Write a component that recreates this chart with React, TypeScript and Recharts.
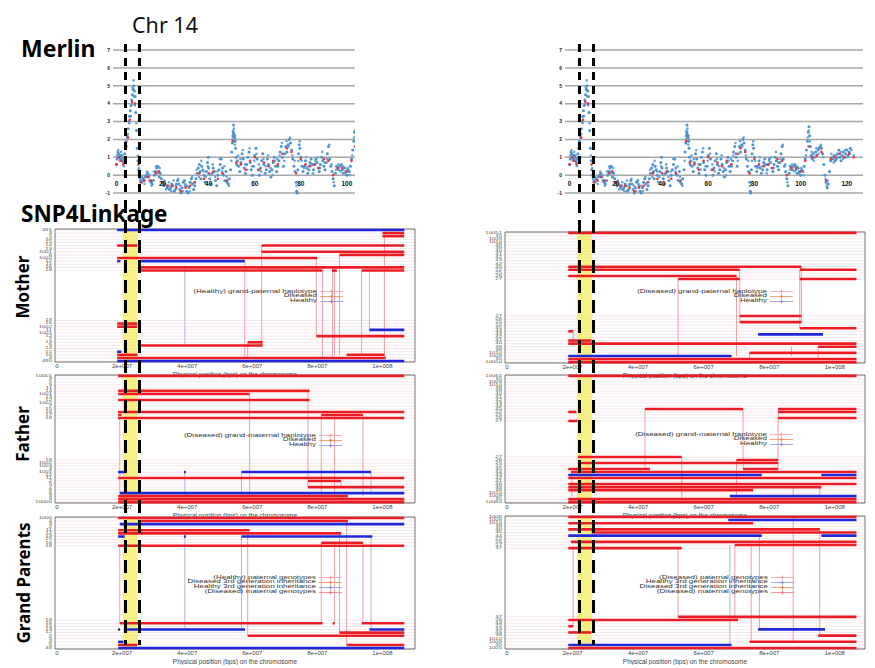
import React from "react";
import {
  ComposedChart,
  Scatter,
  XAxis,
  YAxis,
  CartesianGrid,
  ReferenceLine,
  ReferenceArea,
} from "recharts";

// ---- Merlin LOD profile (position index, LOD) ----
const merlinBlue: [number, number][] = [
  [0, 0.6], [0.3, 0.9], [0.6, 1.3], [0.9, 1.2], [1.2, 1.0], [1.5, 1.1], [1.8, 0.9], [2.1, 1.1], [2.4, 1.0], [2.7, 0.8],
  [3.0, 0.7], [3.3, 0.9], [3.6, 1.2], [3.9, 1.5], [4.2, 1.9], [4.5, 2.2], [4.8, 2.1], [5.1, 2.6], [5.4, 3.0], [5.7, 3.3],
  [6.0, 3.6], [6.3, 3.9], [6.6, 4.2], [6.9, 4.5], [7.2, 4.8], [7.5, 5.0], [7.8, 4.7], [8.1, 4.4], [8.4, 3.5], [8.7, 2.5],
  [9.0, 1.5], [9.3, 0.8], [9.6, 0.3], [9.9, 0.0], [10.5, -0.3], [11, -0.4], [11.5, -0.2], [12, -0.3], [12.5, -0.1], [13, 0.0],
  [13.5, 0.1], [14, -0.1], [14.5, -0.3], [15, -0.4], [15.5, -0.5], [16, -0.3], [16.5, 0.0], [17, 0.2], [17.5, 0.4], [18, 0.5],
  [18.3, 0.2], [18.6, -0.1], [19, 0.1], [19.5, -0.2], [20, -0.4], [20.5, -0.6], [21, -0.5], [22, -0.7], [22.5, -0.6], [23, -0.8],
  [23.5, -0.7], [24, -0.5], [24.5, -0.6], [25, -0.9], [25.5, -0.8], [26, -0.5], [26.5, -0.3], [27, -0.5], [27.5, -0.8], [28, -1.0],
  [28.5, -0.7], [29, -0.4], [29.5, -0.3], [30, -0.6], [30.5, -0.9], [31, -1.0], [31.5, -0.7], [32, -0.4], [32.5, -0.2], [33, -0.5],
  [33.5, -0.8], [34, -0.6], [34.5, -0.2], [35, 0.1], [35.5, 0.4], [36, 0.6], [36.3, 0.2], [36.6, -0.2], [37, 0.5], [37.5, 0.3],
  [38, 0.0], [38.5, -0.4], [39, 0.2], [39.5, 0.7], [39.8, 1.0], [40, 0.4], [40.5, -0.2], [41, -0.5], [41.5, 0.1], [42, 0.4],
  [42.5, 0.2], [43, -0.3], [43.5, -0.6], [44, 0.0], [44.5, 0.3], [45, 0.6], [45.5, 0.9], [46, 0.4], [46.5, 0.0], [47, -0.3],
  [47.5, 0.2], [48, -0.4], [48.5, -0.5], [49, -0.2], [49.5, 0.3], [50, 1.3], [50.3, 1.8], [50.5, 2.2], [50.7, 2.4], [50.8, 2.8],
  [50.9, 2.3], [51.1, 2.1], [51.3, 2.2], [51.5, 1.9], [51.7, 1.5], [51.9, 1.0], [52.2, 0.6], [52.5, 0.8], [53, 0.5], [53.5, 0.2],
  [54, 0.7], [54.5, 1.2], [55, 0.9], [55.5, 0.4], [56, 0.1], [56.5, 0.6], [57, 1.0], [57.5, 1.3], [58, 0.7], [58.5, 0.3],
  [59, 0.0], [59.5, 0.5], [60, 1.1], [60.5, 1.5], [61, 0.9], [61.5, 0.3], [62, 0.0], [62.5, 0.4], [63, 0.8], [63.5, 1.2],
  [64, 0.6], [64.5, 0.1], [65, 0.3], [65.5, 0.9], [66, 0.6], [66.5, 0.2], [67, -0.1], [67.5, 0.3], [68, 0.7], [68.5, 1.0],
  [69, 0.5], [69.5, 0.2], [70, 0.5], [70.5, 0.8], [71, 1.3], [71.5, 1.6], [72, 1.0], [72.5, 0.5], [73, 1.2], [73.5, 1.6],
  [74, 1.3], [74.5, 1.7], [75, 2.0], [75.5, 1.8], [76, 1.4], [76.5, 0.9], [77, 0.5], [77.5, 0.2], [78, -0.4], [78.2, -0.9],
  [78.4, -1.0], [78.7, 0.3], [79, 1.2], [79.3, 1.7], [79.6, 1.5], [80, 1.0], [80.5, 0.5], [81, 0.2], [81.5, 0.5], [82, 0.8],
  [82.5, 0.4], [83, 0.1], [83.5, 0.3], [84, 0.7], [84.5, 0.9], [85, 0.6], [85.5, 0.3], [86, 0.6], [86.5, 0.9], [87, 0.7],
  [87.5, 0.4], [88, 0.2], [88.5, 0.6], [89, 1.0], [89.5, 0.8], [90, 0.5], [90.5, 0.3], [91, 0.7], [91.5, 1.2], [92, 1.6],
  [92.5, 0.9], [93, 0.5], [93.5, 0.2], [94, -0.2], [94.5, -0.6], [95, 0.1], [95.5, 0.5], [96, 0.4], [96.5, 0.3], [97, 0.5],
  [97.5, 0.6], [98, 0.3], [98.5, 0.1], [99, 0.4], [99.5, 0.2], [100, 0.0], [100.5, 0.3], [101, 0.2], [101.5, 0.5], [102, 0.9],
  [102.5, 1.4], [103, 1.9], [103.3, 2.4], [103.6, 2.7], [103.9, 2.2], [104.2, 1.6], [104.5, 1.1], [105, 0.9], [105.5, 1.2], [106, 1.0],
  [106.5, 1.3], [107, 1.1], [107.5, 1.4], [108, 1.5], [108.5, 1.6], [109, 1.5], [109.5, 1.2], [110, 0.6], [110.5, 0.0], [111, -0.4],
  [111.5, -0.7], [112, -0.5], [112.5, 0.2], [113, 0.8], [113.5, 1.0], [114, 0.9], [114.5, 1.1], [115, 0.8], [115.5, 0.9], [116, 1.2],
  [116.5, 1.4], [117, 1.0], [117.5, 0.8], [118, 1.1], [118.5, 1.3], [119, 1.0], [119.5, 1.2], [120, 1.4], [120.5, 1.1], [121, 1.3],
  [121.5, 1.5],
];

// second marker set (denser clusters seen in the blue cloud)
const merlinBlue2: [number, number][] = [
  [0.2, 1.1], [0.8, 1.4], [1.4, 0.8], [2.0, 1.3], [2.6, 1.1], [3.2, 0.5], [3.8, 1.0], [4.4, 1.6], [5.0, 2.3], [5.6, 2.9],
  [6.2, 3.3], [6.8, 4.0], [7.0, 4.9], [7.4, 5.3], [7.6, 4.4], [8.0, 3.9], [8.6, 2.9], [9.2, 1.1], [9.8, 0.4], [10.2, -0.2],
  [11.2, -0.1], [12.2, -0.5], [13.2, 0.2], [14.2, 0.0], [15.2, -0.6], [16.2, 0.2], [17.2, 0.5], [17.8, 0.1], [18.8, 0.4], [19.8, -0.5],
  [20.8, -0.3], [21.5, -0.8], [22.8, -0.4], [23.8, -0.9], [24.8, -0.3], [25.8, -0.6], [26.8, -0.2], [27.8, -0.6], [28.8, -0.9], [29.8, -0.5],
  [30.8, -0.6], [31.8, -0.9], [32.8, -0.1], [33.8, -0.4], [34.8, 0.3], [35.8, -0.1], [36.8, 0.8], [37.8, 0.2], [38.8, -0.1], [39.6, 0.5],
  [40.8, 0.0], [41.8, 0.6], [42.8, -0.1], [43.8, 0.2], [44.8, 0.9], [45.8, 0.2], [46.8, 0.5], [47.8, -0.1], [48.8, -0.6], [49.8, 0.8],
  [50.4, 2.0], [50.6, 2.5], [51.0, 2.6], [51.4, 1.7], [51.6, 2.0], [52.8, 1.1], [53.8, 0.9], [54.8, 1.4], [55.8, 0.6], [56.8, 0.3],
  [57.8, 1.5], [58.8, 0.5], [59.8, 0.8], [60.8, 1.2], [61.8, 0.6], [62.8, 0.2], [63.8, 0.9], [64.8, 0.5], [65.8, 1.1], [66.8, 0.4],
  [67.8, 0.0], [68.8, 0.8], [69.8, 0.9], [70.8, 1.1], [71.8, 1.8], [72.8, 0.8], [73.8, 1.9], [74.8, 1.6], [75.3, 2.1], [76.3, 1.1],
  [77.3, 0.8], [78.1, -0.6], [78.9, 0.8], [79.5, 1.9], [80.3, 0.8], [81.3, 0.4], [82.3, 1.0], [83.3, 0.5], [84.3, 0.6], [85.3, 0.1],
  [86.3, 0.8], [87.3, 1.0], [88.3, 0.4], [89.3, 1.3], [90.3, 0.7], [91.3, 0.9], [92.3, 1.7], [93.3, 0.6], [94.3, -0.4], [95.3, 0.3],
  [96.3, 0.6], [97.3, 0.2], [98.3, 0.5], [99.3, 0.1], [100.3, 0.4], [101.3, 0.0], [102.3, 1.1], [103.1, 2.1], [103.5, 2.5], [104.0, 1.9],
  [104.8, 1.3], [105.8, 0.8], [106.8, 1.5], [107.8, 1.2], [108.8, 1.7], [109.8, 1.0], [110.8, -0.2], [111.3, -0.6], [111.8, -0.3], [113.3, 1.2],
  [114.3, 0.7], [115.3, 1.1], [116.3, 1.0], [117.3, 1.3], [118.3, 0.9], [119.3, 1.4], [120.3, 1.0], [121.3, 1.2], [122, 1.4], [123, 1.1],
];

const merlinRed: [number, number][] = [
  [0, 0.6], [1, 1.0], [2, 0.8], [3, 0.6], [4, 1.0], [5, 2.1], [5.8, 3.1], [6.8, 4.1], [8, 4.0], [9.5, 0.6],
  [10.5, -0.4], [12, -0.3], [13.5, -0.1], [15, -0.3], [17, 0.1], [18.5, 0.2], [20, -0.4], [22, -0.6], [24, -0.6], [26, -0.7],
  [28, -0.9], [30, -0.7], [32, -0.6], [34, -0.4], [36, 0.1], [38, -0.2], [40, 0.1], [42, 0.2], [44, -0.2], [46, 0.1],
  [48, -0.3], [50.5, 1.9], [52, 0.7], [54, 0.6], [56, 0.3], [58, 0.8], [60, 1.0], [62, 0.3], [64, 0.7], [66, 0.5],
  [68, 0.8], [70, 0.6], [72, 1.2], [74, 1.5], [76, 1.3], [78, 0.1], [80, 0.9], [82, 0.6], [84, 0.5], [86, 0.6],
  [88, 0.4], [90, 0.9], [92, 0.8], [94, 0.0], [96, 0.4], [98, 0.4], [100, 0.2], [102, 0.8], [103.5, 1.6], [105, 1.0],
  [107, 1.1], [109, 1.3], [111, -0.3], [113, 0.9], [115, 1.0], [117, 1.2], [119, 1.0], [121, 1.2], [123, 1.0],
];

const merlinYTicks = [-1, 0, 1, 2, 3, 4, 5, 6, 7];
const merlinXTicksLeft = [0, 20, 40, 60, 80, 100];
const merlinXTicksRight = [0, 20, 40, 60, 80, 100, 120];

// ---- SNP4Linkage panels: x in Mb, rows are individuals ----
const bpTicks = [0, 20, 40, 60, 80, 100];
const bpTickLabels = ["0", "2e+007", "4e+007", "6e+007", "8e+007", "1e+008"];
const axisTitle = "Physical position (bps) on the chromosome";

type Seg = [number, number, number, string]; // row, start, end, D/H
type Link = [number, number, number, string]; // position, rowA, rowB, D/H

const motherLTop = ["481", "3", "5", "10", "15", "14", "13", "1001", "6", "1002", "12", "11", "16", "18"];
const motherLBottom = ["18", "16", "1002", "11", "1001", "12", "7", "13", "9", "14", "15", "10", "4", "480"];
const motherLSegs: Seg[] = [
  [42, 18.5, 106.7, "H"], [41, 100, 106.7, "D"], [40, 100, 106.7, "D"], [37, 18.5, 24.7, "D"], [37, 62.9, 106.7, "D"],
  [35, 62.9, 106.7, "D"], [34, 86.8, 106.7, "D"], [33, 18.5, 80, "D"], [32, 18.5, 19.5, "H"], [32, 25.5, 57.7, "H"],
  [30, 25.5, 106.7, "D"], [29, 25.5, 81.6, "D"], [29, 84.5, 86, "D"], [29, 93.6, 106.7, "D"],
  [12, 18.5, 24.7, "D"], [11, 18.5, 24.7, "D"], [10, 96, 106.7, "H"], [8, 79.7, 106.7, "D"], [6, 58.6, 63.2, "D"],
  [5, 25.5, 63.2, "D"], [3, 18.5, 19.8, "H"], [2, 18.5, 24.7, "D"], [2, 89, 100.6, "D"], [1, 18.5, 101, "D"],
  [0, 18.5, 106.7, "H"],
];
const motherLLinks: Link[] = [
  [39.3, 30, 5, "H"], [57.7, 32, 1, "D"], [58.6, 6, 1, "D"], [62.9, 37, 5, "D"], [79.7, 33, 8, "D"], [81.6, 29, 1, "D"],
  [84.7, 29, 1, "D"], [85.3, 29, 2, "D"], [86.8, 34, 2, "D"], [93.6, 29, 2, "D"], [96, 29, 10, "H"], [100.6, 41, 1, "D"],
];

const fatherLTop = ["10001", "3", "5", "9", "11", "14", "1001", "13", "12", "1002", "7", "15", "16", "17", "18"];
const fatherLBottom = ["18", "1002", "1003", "4", "1001", "12", "11", "2", "5", "7", "8", "6", "3", "9", "10000"];
const fatherLSegs: Seg[] = [
  [42, 18.8, 106.7, "D"], [37, 18.8, 77.6, "D"], [36, 18.8, 59.2, "D"], [34, 18.8, 77.6, "D"], [30, 18.8, 106.7, "D"],
  [29, 18.8, 19.8, "D"], [29, 81.2, 94, "D"], [28, 18.8, 106.7, "D"],
  [10, 18.8, 20.8, "H"], [10, 39, 39.6, "H"], [10, 56.7, 96.5, "H"], [8, 18.8, 106.7, "D"], [7, 77.1, 87.3, "D"],
  [5, 77.1, 106.7, "D"], [3, 19.3, 106.7, "H"], [2, 18.8, 89.4, "D"], [1, 18.8, 106.7, "D"], [0, 18.8, 106.7, "D"],
];
const fatherLLinks: Link[] = [
  [19.3, 28, 3, "D"], [39.3, 10, 2, "H"], [56.7, 10, 1, "H"], [59.2, 36, 2, "D"], [77.1, 37, 5, "D"], [81.2, 29, 1, "D"],
  [85.3, 29, 1, "D"], [87.3, 7, 5, "D"], [94, 29, 2, "D"], [96.5, 10, 3, "H"],
];

const grandLTop = ["1000", "4", "3", "2", "11", "12", "13", "15", "16", "18"];
const grandLBottom = ["18", "16", "15", "13", "12", "2", "3", "4", "5", "48"];
const grandLSegs: Seg[] = [
  [42, 18.8, 106.7, "D"], [41, 24.9, 89.4, "D"], [40, 19.3, 106.7, "H"], [38, 18.8, 59.2, "D"], [37, 18.8, 87.3, "D"],
  [36, 18.8, 20.8, "H"], [36, 39, 39.6, "H"], [36, 56.7, 96.9, "H"], [34, 81.2, 94, "D"], [33, 18.8, 106.7, "D"],
  [8, 19.3, 81.6, "D"], [8, 84.7, 85.3, "D"], [8, 93.6, 106.7, "D"], [6, 18.8, 19.4, "H"], [6, 20.8, 57.8, "H"],
  [6, 96, 106.7, "H"], [5, 86.8, 106.7, "D"], [4, 58.6, 106.7, "D"], [2, 18.8, 20.4, "H"], [1, 18.8, 24.7, "D"],
  [1, 89, 106.7, "D"], [0, 18.8, 106.7, "H"],
];
const grandLLinks: Link[] = [
  [19.3, 33, 8, "D"], [39.3, 36, 6, "H"], [56.7, 36, 6, "H"], [58.6, 37, 4, "D"], [81.2, 34, 8, "D"], [85.3, 34, 8, "D"],
  [86.8, 37, 5, "D"], [89, 41, 1, "D"], [94, 34, 8, "D"], [96.5, 36, 6, "H"],
];

const motherRTop = ["10051", "35", "1009", "1010", "38", "39", "40", "41", "42", "43", "44", "45", "22", "25", "26", "27"];
const motherRBottom = ["27", "26", "25", "22", "45", "44", "43", "42", "41", "40", "39", "38", "1010", "1009", "35", "10050"];
const motherRSegs: Seg[] = [
  [42, 18.7, 106.6, "D"], [31, 18.7, 89.8, "D"], [30, 18.7, 71, "D"], [30, 89.3, 106.6, "D"], [28, 18.7, 70, "D"],
  [27, 52.2, 71, "D"], [27, 89.3, 106.6, "D"],
  [15, 71, 89.8, "D"], [13, 71, 89.8, "D"], [11, 89.3, 106.6, "D"], [10, 18.7, 20.2, "D"], [9, 76.6, 96.4, "H"],
  [7, 18.7, 25.8, "D"], [6, 18.7, 106.6, "D"], [5, 94.9, 106.6, "D"], [3, 74, 106.6, "D"], [2, 18.7, 68.5, "H"],
  [1, 18.7, 106.6, "D"], [0, 18.7, 106.6, "D"],
];
const motherRLinks: Link[] = [
  [20.2, 10, 6, "D"], [52.2, 27, 1, "D"], [70, 28, 2, "D"], [71, 30, 13, "D"], [74, 3, 1, "D"], [86.8, 5, 2, "D"],
  [89.3, 30, 11, "D"], [89.8, 31, 13, "D"], [94.9, 5, 1, "D"],
];

const fatherRTop = ["10061", "35", "1009", "1010", "38", "39", "40", "41", "42", "43", "44", "45", "22", "25", "26", "27"];
const fatherRBottom = ["27", "26", "25", "22", "45", "44", "43", "42", "41", "40", "39", "38", "1010", "1009", "35", "10060"];
const fatherRSegs: Seg[] = [
  [42, 18.7, 106.6, "D"], [31, 42.1, 72, "D"], [31, 82.7, 106.6, "D"], [30, 18.7, 21.2, "D"], [30, 82.7, 106.6, "D"],
  [28, 82.7, 106.6, "D"], [27, 18.7, 21.5, "D"],
  [15, 21.7, 53.3, "D"], [14, 70, 82.7, "D"], [13, 21.7, 82.7, "D"], [11, 18.7, 43.6, "D"], [11, 72, 82.7, "D"],
  [10, 19.5, 106.6, "D"], [9, 18.7, 77.7, "H"], [9, 95.9, 106.6, "H"], [8, 18.7, 106.6, "D"], [6, 18.7, 106.6, "D"],
  [5, 18.7, 95.9, "D"], [4, 18.7, 75.1, "D"], [2, 68, 106.6, "H"], [1, 18.7, 106.6, "D"], [0, 18.7, 106.6, "D"],
];
const fatherRLinks: Link[] = [
  [19.8, 10, 2, "D"], [42.1, 31, 11, "D"], [53.3, 15, 1, "D"], [70, 14, 2, "D"], [72, 31, 11, "D"], [82.7, 31, 11, "D"],
  [87.3, 5, 1, "D"], [95.4, 5, 2, "D"],
];

const grandRTop = ["1008", "1009", "1010", "38", "40", "45", "44", "22", "26", "27", "37"];
const grandRBottom = ["37", "26", "44", "22", "43", "45", "38", "1010", "1009", "35", "1005"];
const grandRSegs: Seg[] = [
  [42, 18.7, 106.6, "D"], [41, 67.5, 106.6, "H"], [40, 18.7, 75.1, "D"], [38, 18.7, 95.4, "D"], [37, 25.8, 106.6, "D"],
  [36, 18.7, 77.7, "H"], [36, 95.9, 106.6, "H"], [34, 19.5, 106.6, "D"], [33, 69.5, 106.6, "D"], [32, 18.7, 53.3, "D"],
  [10, 52.2, 106.6, "D"], [9, 18.7, 70.5, "D"], [7, 18.7, 20.2, "D"], [6, 76.6, 97, "H"], [5, 18.7, 25.8, "D"],
  [4, 94.9, 106.6, "D"], [2, 74, 106.6, "D"], [1, 18.7, 68.5, "H"], [0, 18.7, 106.6, "D"],
];
const grandRLinks: Link[] = [
  [20.2, 32, 7, "D"], [52.2, 32, 10, "D"], [68, 33, 1, "H"], [69.5, 33, 9, "D"], [74.5, 33, 2, "D"], [77, 36, 6, "H"],
  [87.3, 42, 2, "D"], [95.4, 38, 4, "D"],
];

const legendMotherL: [string, string][] = [["(Healthy) grand-paternal haplotype", "P"], ["Diseased", "D"], ["Healthy", "H"]];
const legendMotherR: [string, string][] = [["(Diseased) grand-paternal haplotype", "P"], ["Diseased", "D"], ["Healthy", "H"]];
const legendFather: [string, string][] = [["(Diseased) grand-maternal haplotype", "P"], ["Diseased", "D"], ["Healthy", "H"]];
const legendGrandL: [string, string][] = [
  ["(Healthy) paternal genotypes", "P"], ["Diseased 3rd generation inheritance", "D"],
  ["Healthy 3rd generation inheritance", "H"], ["(Diseased) maternal genotypes", "M"],
];
const legendGrandR: [string, string][] = [
  ["(Diseased) paternal genotypes", "P"], ["Healthy 3rd generation inheritance", "H"],
  ["Diseased 3rd generation inheritance", "D"], ["(Diseased) maternal genotypes", "M"],
];

const SEG_COLOR: Record<string, string> = { D: "#ec1c24", H: "#1f27d9" };
const LINK_COLOR: Record<string, string> = { D: "#ec8790", H: "#9aa0d8" };
const LEGEND_COLOR: Record<string, string> = { P: "#f2a3aa", D: "#f08a5a", H: "#8c90dc", M: "#ee7e86" };
const FONT = "'Liberation Sans', Arial, sans-serif";

function MerlinPlot({ left, width, xMin, xMax, xTicks }: any) {
  const toPts = (arr: [number, number][]) => arr.filter((p) => p[0] <= xMax).map(([x, y]) => ({ x, y }));
  const tick = (p: any) => (
    <text x={p.x} y={p.y - 10} textAnchor="middle" dominantBaseline="central" fontSize={6.5} fontWeight={700} fill="#111" fontFamily={FONT}>
      {p.payload.value}
    </text>
  );
  return (
    <div style={{ position: "absolute", left, top: 44, width, height: 153 }}>
      <ComposedChart width={width} height={153} margin={{ top: 6, right: 5, bottom: 0, left: 0 }}>
        <CartesianGrid vertical={false} stroke="#a8a8a8" strokeWidth={1.5} />
        <XAxis type="number" dataKey="x" domain={[xMin, xMax]} ticks={xTicks} interval={0} allowDataOverflow axisLine={false} tickLine={false} tickSize={0} tickMargin={0} height={4} tick={tick} />
        <YAxis type="number" dataKey="y" domain={[-1, 7]} ticks={merlinYTicks} interval={0} width={width > 300 ? 20 : 18} axisLine={false} tickLine={false} tickSize={0} tickMargin={3} tick={{ fontSize: 5, fill: "#222", fontWeight: 700, fontFamily: FONT }} />
        <Scatter data={toPts(merlinBlue2)} fill="#6aa6da" isAnimationActive={false} shape={(p: any) => <circle cx={p.cx} cy={p.cy} r={1.3} fill="#6aa6da" />} />
        <Scatter data={toPts(merlinBlue)} fill="#4f92d0" isAnimationActive={false} shape={(p: any) => <circle cx={p.cx} cy={p.cy} r={1.5} fill="#4f92d0" />} />
        <Scatter data={toPts(merlinRed)} fill="#e0383c" isAnimationActive={false} shape={(p: any) => <circle cx={p.cx} cy={p.cy} r={1.3} fill="#e0383c" />} />
      </ComposedChart>
    </div>
  );
}

function SnpPanel({ left, top, plotH, xMin, xMax, band, topLabels, bottomLabels, segs, links, legend, legendRight, legendTop }: any) {
  const labelMap = new Map<number, string>();
  topLabels.forEach((l: string, i: number) => labelMap.set(42 - i, l));
  bottomLabels.forEach((l: string, i: number) => labelMap.set(bottomLabels.length - 1 - i, l));
  const rowTicks = Array.from(labelMap.keys()).sort((a, b) => a - b);
  const height = 2 + plotH + 16;
  const lh = 4.7;
  const rowTick = (p: any) => (
    <text transform={`translate(${p.x},${p.y}) scale(1.15,0.5)`} textAnchor="end" dominantBaseline="central" fontSize={5.2} fill="#555" fontFamily={FONT}>
      {labelMap.get(p.payload.value) ?? ""}
    </text>
  );
  return (
    <div style={{ position: "absolute", left, top, width: 420, height }}>
      <ComposedChart width={420} height={height} margin={{ top: 2, right: 5, bottom: 0, left: 0 }}>
        <CartesianGrid vertical={false} stroke="#efd6de" strokeWidth={0.6} />
        <XAxis
          type="number"
          dataKey="x"
          domain={[xMin, xMax]}
          ticks={bpTicks}
          interval={0}
          allowDataOverflow
          axisLine={false}
          tickLine={false}
          tickSize={0}
          tickMargin={2}
          height={16}
          tickFormatter={(v: number) => bpTickLabels[bpTicks.indexOf(v)]}
          tick={{ fontSize: 6, fill: "#444", fontFamily: FONT }}
          label={{ value: axisTitle, position: "insideBottom", offset: 1, fontSize: 6.5, fill: "#444", fontFamily: FONT }}
        />
        <YAxis
          type="number"
          dataKey="y"
          domain={[-0.3, 42.3]}
          ticks={rowTicks}
          interval={0}
          allowDataOverflow
          width={55}
          axisLine={false}
          tickLine={false}
          tickSize={0}
          tickMargin={3}
          tick={rowTick}
        />
        {links.map((l: Link, i: number) => (
          <ReferenceLine key={"l" + i} segment={[{ x: l[0], y: l[1] }, { x: l[0], y: l[2] }]} stroke={LINK_COLOR[l[3]]} strokeWidth={0.8} />
        ))}
        {segs.map((s: Seg, i: number) => (
          <ReferenceLine key={"s" + i} segment={[{ x: s[1], y: s[0] }, { x: s[2], y: s[0] }]} stroke={SEG_COLOR[s[3]]} strokeWidth={2.6} />
        ))}
        <ReferenceArea x1={band[0]} x2={band[1]} y1={-0.3} y2={42.3} fill="#f2e83a" fillOpacity={0.6} stroke="none" />
        <ReferenceArea x1={xMin} x2={xMax} y1={-0.3} y2={42.3} fill="none" stroke="#555" strokeWidth={0.8} />
      </ComposedChart>
      <div style={{ position: "absolute", left: legendRight - left - 260, top: legendTop - top - lh / 2, width: 286, fontFamily: FONT }}>
        {legend.map(([text, kind]: [string, string], i: number) => (
          <div key={i} style={{ display: "flex", justifyContent: "flex-end", alignItems: "center", height: lh }}>
            <span style={{ display: "inline-block", fontSize: 8, lineHeight: lh + "px", color: "#333", whiteSpace: "nowrap", transform: "scaleY(0.62)" }}>{text}</span>
            <svg width={26} height={5} style={{ flex: "none" }}>
              <line x1={3} y1={2.5} x2={26} y2={2.5} stroke={LEGEND_COLOR[kind]} strokeWidth={0.8} />
              <line x1={12.5} y1={2.5} x2={16.5} y2={2.5} stroke={LEGEND_COLOR[kind]} strokeWidth={1.2} />
              <line x1={14.5} y1={0.5} x2={14.5} y2={4.5} stroke={LEGEND_COLOR[kind]} strokeWidth={1.2} />
            </svg>
          </div>
        ))}
      </div>
    </div>
  );
}

export default function App() {
  const leftCol = { left: 0, xMin: -0.6, xMax: 110, band: [20.2, 24.8] };
  const rightCol = { left: 450, xMin: -0.6, xMax: 109.2, band: [21.3, 25.9] };
  return (
    <div style={{ position: "absolute", left: 0, top: 0, width: 875, height: 668, background: "#fff", overflow: "hidden" }}>
      <MerlinPlot left={95} width={265} xMin={-1.5} xMax={103.5} xTicks={merlinXTicksLeft} />
      <MerlinPlot left={545} width={323} xMin={-2} xMax={127} xTicks={merlinXTicksRight} />

      <SnpPanel {...leftCol} top={227} plotH={133} topLabels={motherLTop} bottomLabels={motherLBottom} segs={motherLSegs} links={motherLLinks} legend={legendMotherL} legendRight={317} legendTop={292} />
      <SnpPanel {...leftCol} top={373} plotH={128} topLabels={fatherLTop} bottomLabels={fatherLBottom} segs={fatherLSegs} links={fatherLLinks} legend={legendFather} legendRight={316} legendTop={436} />
      <SnpPanel {...leftCol} top={515} plotH={132} topLabels={grandLTop} bottomLabels={grandLBottom} segs={grandLSegs} links={grandLLinks} legend={legendGrandL} legendRight={316} legendTop={578} />

      <SnpPanel {...rightCol} top={230} plotH={131} topLabels={motherRTop} bottomLabels={motherRBottom} segs={motherRSegs} links={motherRLinks} legend={legendMotherR} legendRight={767} legendTop={292} />
      <SnpPanel {...rightCol} top={373} plotH={128} topLabels={fatherRTop} bottomLabels={fatherRBottom} segs={fatherRSegs} links={fatherRLinks} legend={legendFather} legendRight={767} legendTop={435} />
      <SnpPanel {...rightCol} top={514} plotH={133} topLabels={grandRTop} bottomLabels={grandRBottom} segs={grandRSegs} links={grandRLinks} legend={legendGrandR} legendRight={768} legendTop={578} />

      <svg width={875} height={668} style={{ position: "absolute", left: 0, top: 0, pointerEvents: "none" }}>
        <text x={132} y={33} fontSize={21.5} fontFamily="'Noto Sans', sans-serif" fill="#111">Chr 14</text>
        <text x={21} y={57} fontSize={23} fontWeight={700} fontFamily="'Noto Sans', sans-serif" fill="#000">Merlin</text>
        <text x={21} y={222} fontSize={22.5} fontWeight={700} fontFamily="'Noto Sans', sans-serif" fill="#000">SNP4Linkage</text>
        <text transform="translate(22,287) rotate(-90)" textAnchor="middle" dominantBaseline="central" fontSize={17} fontWeight={700} fontFamily="'Noto Sans', sans-serif">Mother</text>
        <text transform="translate(22,434) rotate(-90)" textAnchor="middle" dominantBaseline="central" fontSize={17} fontWeight={700} fontFamily="'Noto Sans', sans-serif">Father</text>
        <text transform="translate(23,583) rotate(-90)" textAnchor="middle" dominantBaseline="central" fontSize={17} fontWeight={700} fontFamily="'Noto Sans', sans-serif">Grand Parents</text>
        {[125.5, 139.5, 579.5, 593.5].map((x) => (
          <g key={x}>
            <line x1={x} y1={44} x2={x} y2={196} stroke="#000" strokeWidth={3} strokeDasharray="8 6" />
            <line x1={x} y1={200} x2={x} y2={645} stroke="#000" strokeWidth={3} strokeDasharray="13 7" />
          </g>
        ))}
      </svg>
    </div>
  );
}
